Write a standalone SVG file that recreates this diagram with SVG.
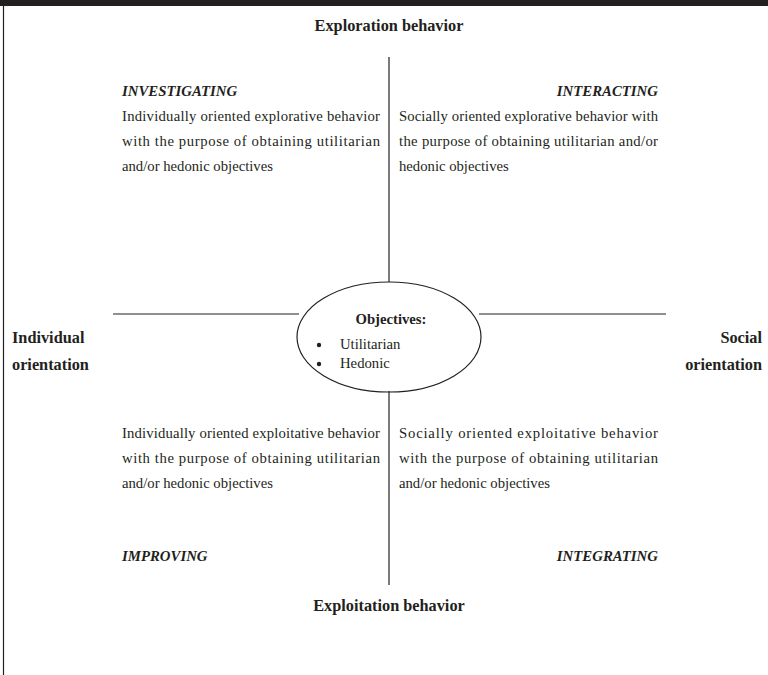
<svg xmlns="http://www.w3.org/2000/svg" width="768" height="675" viewBox="0 0 768 675">
<style>
text{font-family:"Liberation Serif","Times New Roman",serif;fill:#231f20}
.h{font-size:16.3px;font-weight:bold}
.q{font-size:14.8px;font-weight:bold;font-style:italic}
.b{font-size:14.7px}
.ln{stroke:#231f20;stroke-width:1.2;fill:none}
</style>
<rect x="0" y="0" width="768" height="675" fill="#fff"/>
<rect x="0" y="0" width="768" height="6" fill="#231f20"/>
<line x1="3.5" y1="6" x2="3.5" y2="675" class="ln"/>
<g id="connectors">
<line x1="389" y1="57" x2="389" y2="282" class="ln"/>
<line x1="389" y1="391" x2="389" y2="585" class="ln"/>
<line x1="113" y1="314" x2="299" y2="314" class="ln"/>
<line x1="479" y1="314" x2="666" y2="314" class="ln"/>
</g>
<g id="axis-top"><text class="h" x="389" y="31" text-anchor="middle">Exploration behavior</text></g>
<g id="axis-bottom"><text class="h" x="389" y="611" text-anchor="middle">Exploitation behavior</text></g>
<g id="axis-left"><text class="h" x="12" y="343">Individual</text><text class="h" x="12" y="370">orientation</text></g>
<g id="axis-right"><text class="h" x="762" y="343" text-anchor="end">Social</text><text class="h" x="762" y="370" text-anchor="end">orientation</text></g>
<g id="center">
<ellipse cx="389" cy="337" rx="92" ry="55" class="ln"/>
<text class="b" x="391" y="324" text-anchor="middle" font-weight="bold">Objectives:</text>
<circle cx="319" cy="345" r="2.2" fill="#231f20"/>
<circle cx="319" cy="364" r="2.2" fill="#231f20"/>
<text class="b" x="340" y="349">Utilitarian</text>
<text class="b" x="340" y="368">Hedonic</text>
</g>
<g id="investigating">
<text class="q" x="122" y="96">INVESTIGATING</text>
<text class="b" x="122" y="121" textLength="258" lengthAdjust="spacing">Individually oriented explorative behavior</text>
<text class="b" x="122" y="146" textLength="258" lengthAdjust="spacing">with the purpose of obtaining utilitarian</text>
<text class="b" x="122" y="171">and/or hedonic objectives</text>
</g>
<g id="interacting">
<text class="q" x="658" y="96" text-anchor="end">INTERACTING</text>
<text class="b" x="399" y="121" textLength="259" lengthAdjust="spacing">Socially oriented explorative behavior with</text>
<text class="b" x="399" y="146" textLength="259" lengthAdjust="spacing">the purpose of obtaining utilitarian and/or</text>
<text class="b" x="399" y="171">hedonic objectives</text>
</g>
<g id="improving">
<text class="b" x="122" y="438" textLength="258" lengthAdjust="spacing">Individually oriented exploitative behavior</text>
<text class="b" x="122" y="463" textLength="258" lengthAdjust="spacing">with the purpose of obtaining utilitarian</text>
<text class="b" x="122" y="488">and/or hedonic objectives</text>
<text class="q" x="122" y="561">IMPROVING</text>
</g>
<g id="integrating">
<text class="b" x="399" y="438" textLength="259" lengthAdjust="spacing">Socially oriented exploitative behavior</text>
<text class="b" x="399" y="463" textLength="259" lengthAdjust="spacing">with the purpose of obtaining utilitarian</text>
<text class="b" x="399" y="488">and/or hedonic objectives</text>
<text class="q" x="658" y="561" text-anchor="end">INTEGRATING</text>
</g>
</svg>
